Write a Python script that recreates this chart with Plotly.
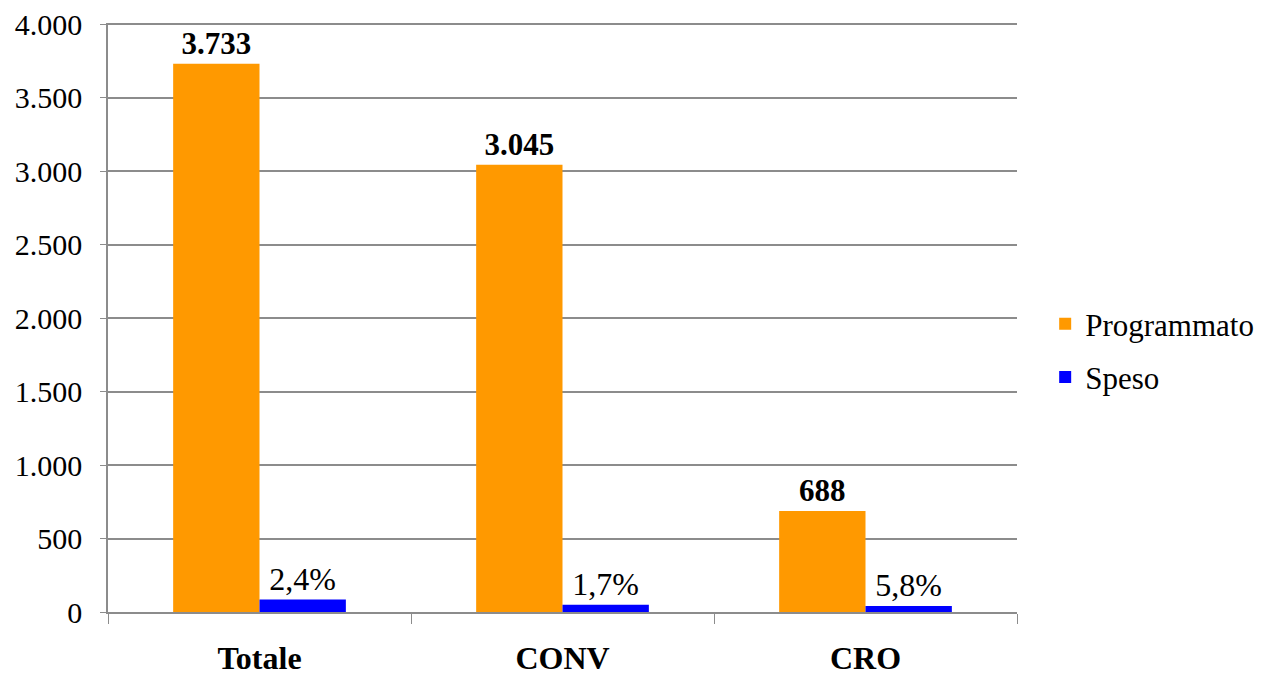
import plotly.graph_objects as go

categorie = ["Totale", "CONV", "CRO"]
programmato = [3733, 3045, 688]
speso = [85, 50, 40]
speso_pct = ["2,4%", "1,7%", "5,8%"]

grigio = "#8c8c8c"
font_serif = "Liberation Serif, Times New Roman, serif"

fig = go.Figure()

fig.add_trace(go.Bar(
    x=categorie, y=programmato, name="Programmato", legendgroup="p",
    marker=dict(color="#ff9900", line=dict(width=0)),
    text=[f"{v:,}".replace(",", ".") for v in programmato],
    textposition="outside", cliponaxis=False,
    textfont=dict(family=font_serif, size=31, color="black", weight="bold"),
))
fig.add_trace(go.Bar(
    x=categorie, y=speso, name="Speso", legendgroup="s",
    marker=dict(color="#0000ff", line=dict(width=0)),
    text=speso_pct,
    textposition="outside", cliponaxis=False,
    textfont=dict(family=font_serif, size=32, color="black"),
))

# the page adds an 8px body margin, so margins are shifted by 8px
fig.update_layout(
    width=1263, height=674,
    margin=dict(l=100, r=249, t=15, b=70),
    plot_bgcolor="white", paper_bgcolor="white",
    barmode="group", bargap=0.43, bargroupgap=0,
    separators=",.",
    font=dict(family=font_serif, color="black"),
    legend=dict(x=1.031, y=0.444, yanchor="middle", xanchor="left",
                font=dict(size=31), tracegroupgap=10, itemsizing="constant"),
)

fig.update_yaxes(
    range=[0, 4010], tickvals=[0, 500, 1000, 1500, 2000, 2500, 3000, 3500, 4000],
    tickformat=",d",
    showgrid=True, gridcolor=grigio, gridwidth=1.5,
    showline=True, linecolor=grigio, linewidth=1.5,
    ticks="outside", ticklen=6, tickcolor=grigio,
    ticklabelstandoff=12, automargin=False, ticklabeloverflow="allow",
    tickfont=dict(size=30), zeroline=False,
)
fig.update_xaxes(
    showline=True, linecolor=grigio, linewidth=2,
    ticks="outside", tickson="boundaries", ticklen=10, tickcolor=grigio,
    ticklabelstandoff=17, automargin=False,
    tickfont=dict(size=32, weight="bold"),
)

fig.write_html("out.html")
